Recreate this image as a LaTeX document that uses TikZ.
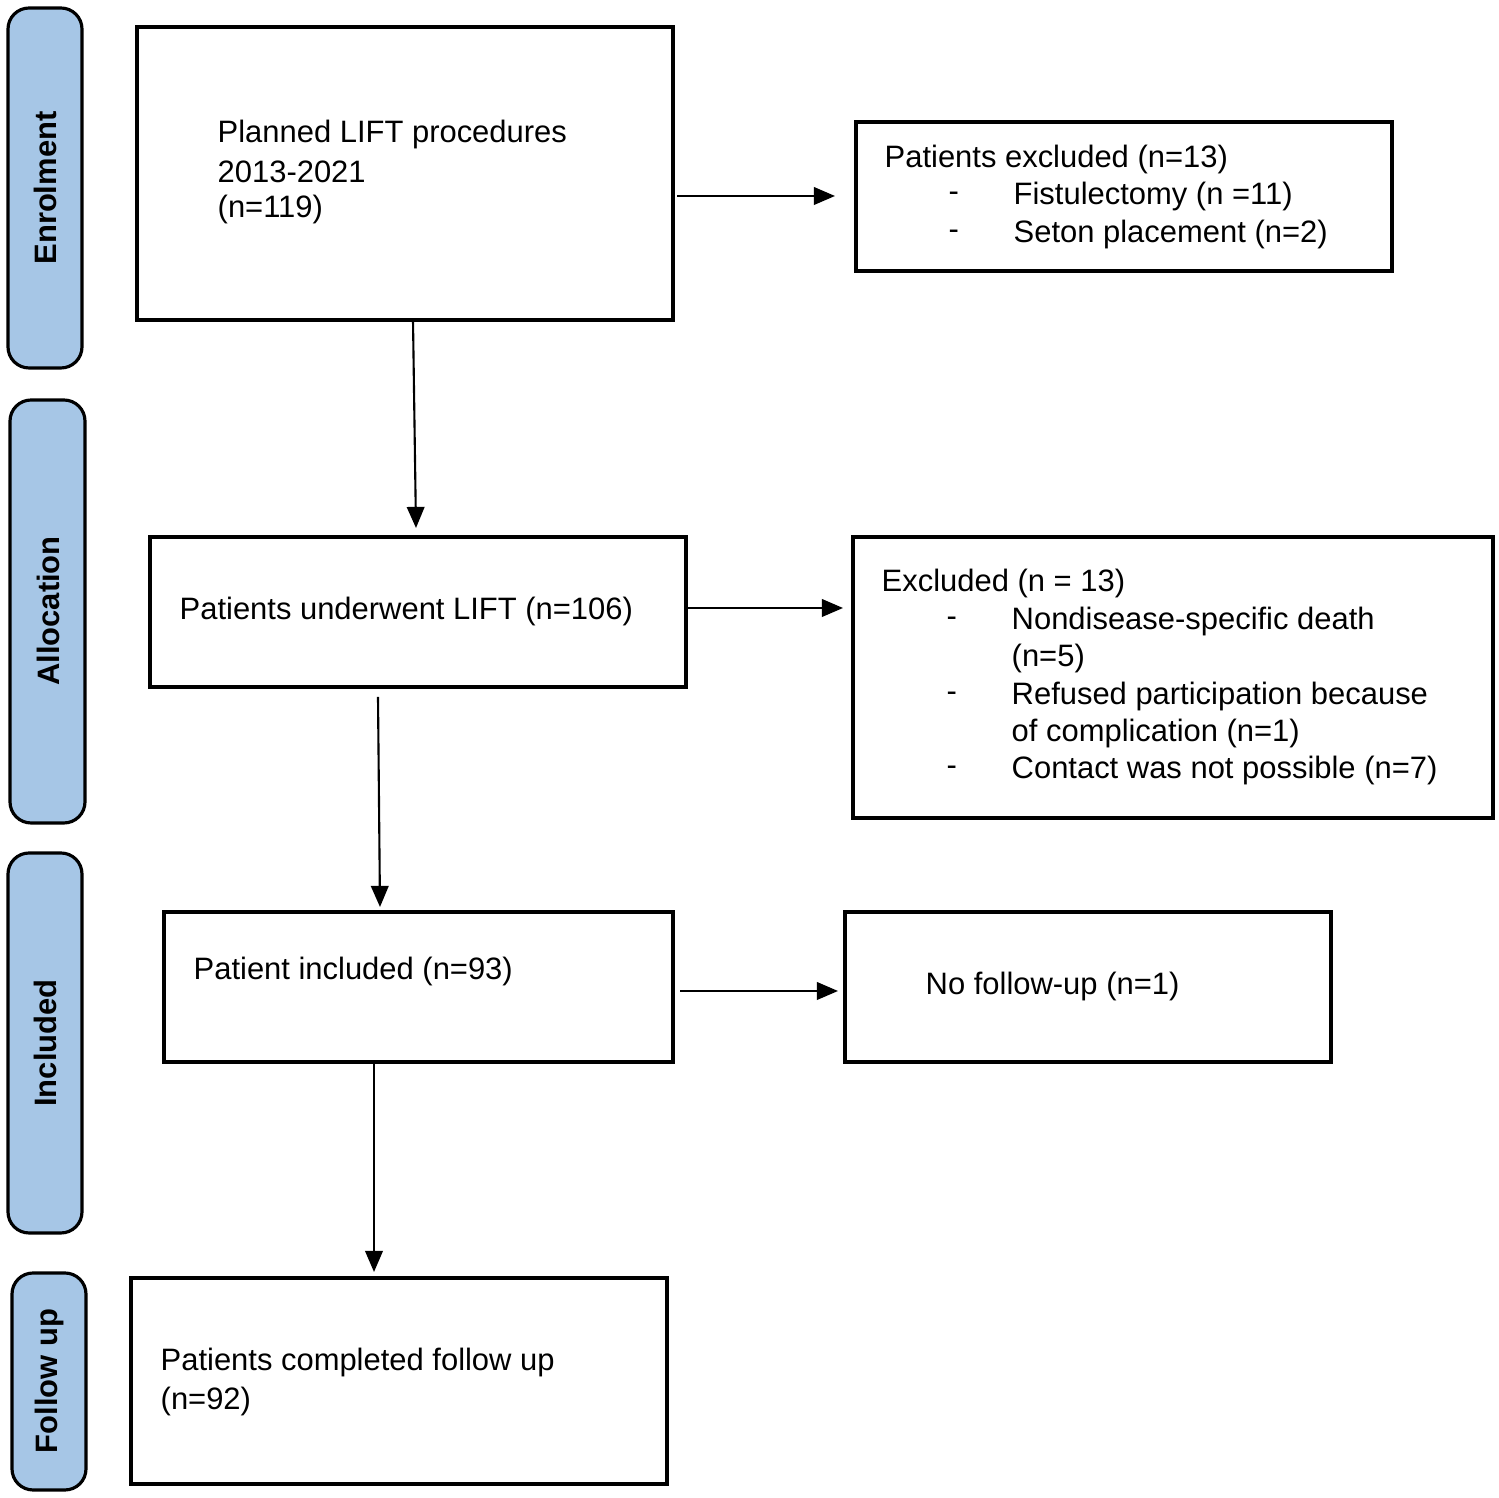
\documentclass[tikz,border=0pt]{standalone}
\usepackage{fontspec}
\setmainfont{Liberation Sans}
\usetikzlibrary{positioning}
\usetikzlibrary{arrows.meta}

\definecolor{stageblue}{HTML}{A6C6E6}

\tikzset{
  stage/.style={draw, line width=0.9pt, fill=stageblue, rounded corners=6pt},
  box/.style={draw, line width=0.9pt},
  txt/.style={anchor=west, inner sep=0pt, font=\fontsize{8.8}{10.5}\selectfont},
  side/.style={rotate=90, inner sep=0pt, font=\fontsize{8.8}{10.5}\selectfont\bfseries},
  flow/.style={-{Triangle[length=6pt,width=5pt]}, line width=0.6pt}
}

\begin{document}
\begin{tikzpicture}[x=0.01cm, y=-0.01cm]
\useasboundingbox (0,0) rectangle (1499,1498);

% stage bars
\draw[stage] (8,8) rectangle (82,368);
\draw[stage] (10,400) rectangle (85,823);
\draw[stage] (8,853) rectangle (82,1233);
\draw[stage] (12,1273) rectangle (86,1490);
\node[side] (enrol) at (45,188) {Enrolment};
\node[side] (alloc) at (48,611) {Allocation};
\node[side] (incl) at (45,1043) {Included};
\node[side] (follow) at (49,1381) {Follow up};

% boxes
\draw[box] (137,27) rectangle (673,320);
\draw[box] (856,122) rectangle (1392,271);
\draw[box] (150,537) rectangle (686,687);
\draw[box] (853,537) rectangle (1493,818);
\draw[box] (164,912) rectangle (673,1062);
\draw[box] (845,912) rectangle (1331,1062);
\draw[box] (131,1278) rectangle (667,1484);

% texts
\node[txt] (planned) at (217,135) {Planned LIFT procedures};
\node[txt] at (217,172) {2013-2021};
\node[txt] at (217,210) {(n=119)};

\node[txt] (excl1) at (884,160) {Patients excluded (n=13)};
\node[txt] at (948,197) {-};
\node[txt] at (1013,197) {Fistulectomy (n =11)};
\node[txt] at (948,235) {-};
\node[txt] at (1013,235) {Seton placement (n=2)};

\node[txt] (under) at (179,612) {Patients underwent LIFT (n=106)};

\node[txt] (excl2) at (881,584) {Excluded (n = 13)};
\node[txt] at (946,622) {-};
\node[txt] at (1011,622) {Nondisease-specific death};
\node[txt] at (1011,659) {(n=5)};
\node[txt] at (946,697) {-};
\node[txt] at (1011,697) {Refused participation because};
\node[txt] at (1011,734) {of complication (n=1)};
\node[txt] at (946,771) {-};
\node[txt] at (1011,771) {Contact was not possible (n=7)};

\node[txt] (incl93) at (193,971) {Patient included (n=93)};
\node[txt] (nofu) at (925,987) {No follow-up (n=1)};

\node[txt] (done) at (160,1363) {Patients completed follow up};
\node[txt] at (160,1401) {(n=92)};

% connectors
\coordinate (a1) at (413,320); \coordinate (b1) at (416,528);
\coordinate (a2) at (677,196); \coordinate (b2) at (835,196);
\coordinate (a3) at (378,697); \coordinate (b3) at (380,907);
\coordinate (a4) at (687,608); \coordinate (b4) at (843,608);
\coordinate (a5) at (374,1062); \coordinate (b5) at (374,1272);
\coordinate (a6) at (680,991); \coordinate (b6) at (838,991);
\foreach \i in {1,...,6}
  \draw[flow] (a\i) -- (b\i);

\end{tikzpicture}
\end{document}
